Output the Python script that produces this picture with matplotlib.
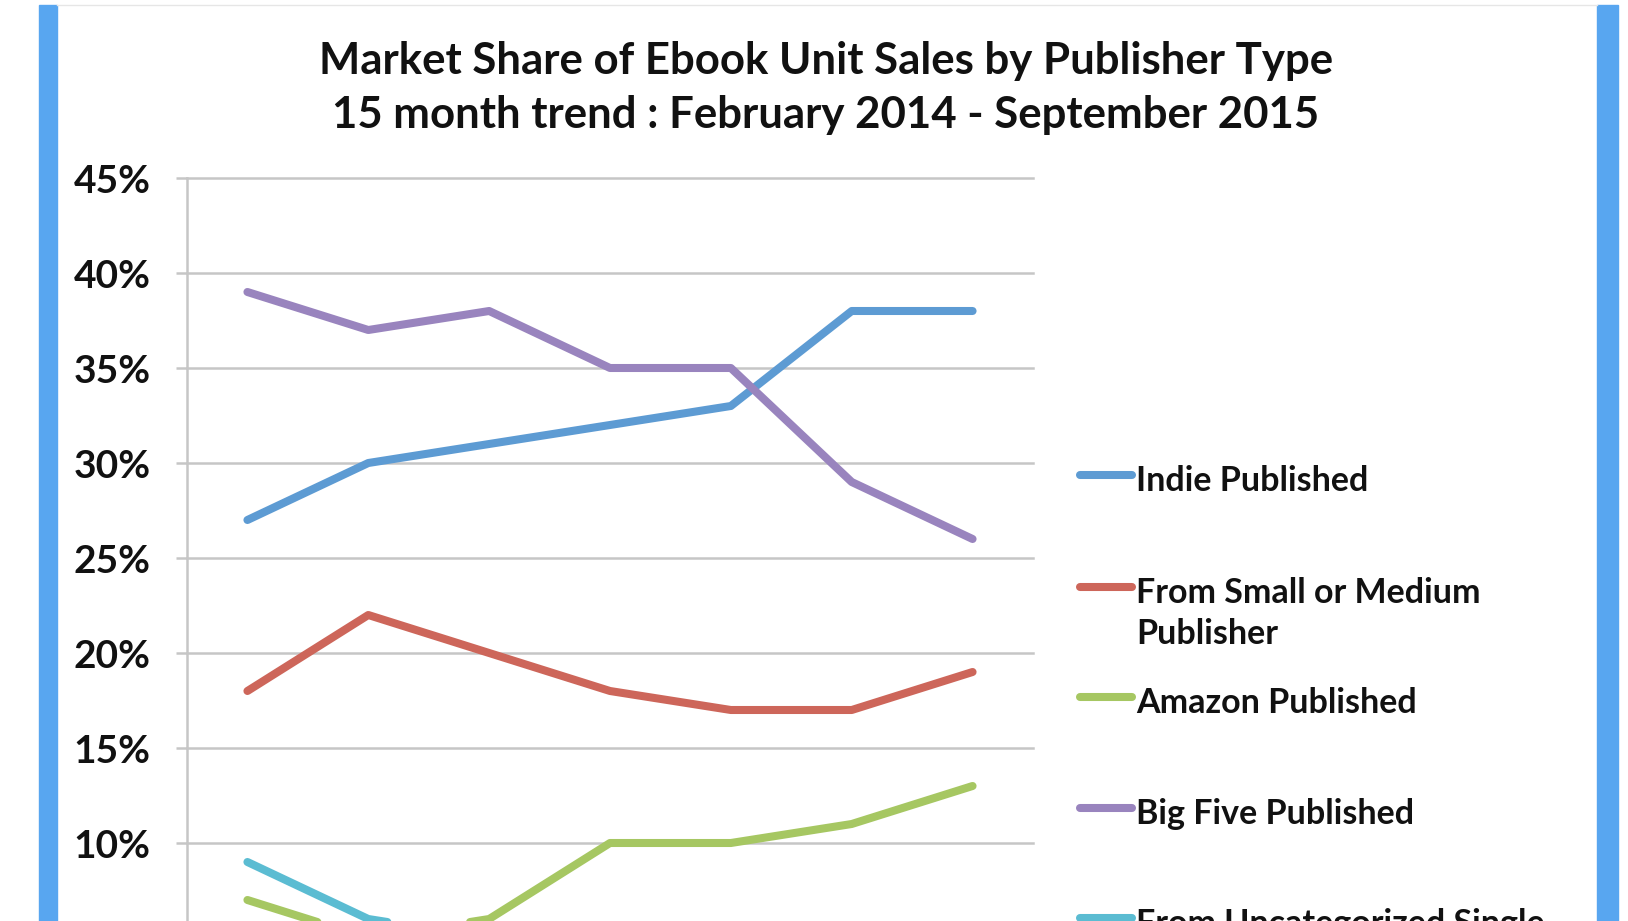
import matplotlib.pyplot as plt
from matplotlib.lines import Line2D
from matplotlib.patches import Rectangle
from matplotlib.ticker import FuncFormatter

plt.rcParams['font.family'] = ['Lato', 'DejaVu Sans']

# Data (market share %)
months = ['Feb 2014', 'May 2014', 'Jul 2014', 'Oct 2014', 'Jan 2015', 'May 2015', 'Sep 2015']
indie = [27, 30, 31, 32, 33, 38, 38]
small_medium = [18, 22, 20, 18, 17, 17, 19]
amazon = [7, 5, 6, 10, 10, 11, 13]
big_five = [39, 37, 38, 35, 35, 29, 26]
uncategorized = [9, 6, 5, 4, 4, 4, 4]

series_names = ['Indie Published', 'From Small or Medium\nPublisher', 'Amazon Published',
                'Big Five Published', 'From Uncategorized Single\nAuthor Publisher']
series_values = [indie, small_medium, amazon, big_five, uncategorized]
series_colors = ['#5D9BD3', '#CD665A', '#A6C762', '#9984BE', '#5BBCD2']

# only the ticks that are inside the cropped screenshot
y_ticks = [10, 15, 20, 25, 30, 35, 40, 45]

title_lines = ['Market Share of Ebook Unit Sales by Publisher Type',
               '15 month trend : February 2014 - September 2015']

W, H = 1628, 921
fig = plt.figure(figsize=(W / 100, H / 100), dpi=100)

# plot area runs below the bottom of the (cropped) picture
ax = fig.add_axes([187 / W, 1 - 1033 / H, (1033 - 187) / W, (1033 - 178) / H])
x = list(range(len(months)))
for vals, color in zip(series_values, series_colors):
    ax.plot(x, vals, color=color, lw=5.8, solid_capstyle='round', solid_joinstyle='round', zorder=3)

grid_c = '#C6C6C6'
ax.set_xlim(-0.5, len(months) - 0.5)
ax.set_ylim(0, 45)
ax.set_xticks(x)
ax.set_xticklabels(months)
ax.set_yticks(y_ticks)
ax.yaxis.set_major_formatter(FuncFormatter(lambda v, p: f'{v:.0f}%'))
ax.grid(axis='y', color=grid_c, lw=1.8)
for gl in ax.get_ygridlines():
    gl.set_clip_on(False)
ax.set_axisbelow(True)
for s in ['top', 'right', 'bottom']:
    ax.spines[s].set_visible(False)
ax.spines['left'].set_color(grid_c)
ax.spines['left'].set_linewidth(1.8)
ax.tick_params(axis='y', length=8, width=1.8, color=grid_c, pad=18, labelsize=28)
# month labels sit below the cropped edge of the screenshot
ax.tick_params(axis='x', length=0, labelbottom=False)
for lab in ax.get_yticklabels():
    lab.set_fontweight('bold')
    lab.set_color('#111111')

# title
for text, base in zip(title_lines, [74, 128]):
    fig.text(826 / W, 1 - base / H, text, ha='center', va='baseline',
             fontsize=31.5, fontweight='bold', color='#111111')

# legend drawn by hand, Excel style (key aligned to the first text line)
baselines = [491, 603, 713, 824, 934]
for name, color, base in zip(series_names, series_colors, baselines):
    ky = 1 - (base - 16) / H
    fig.add_artist(Line2D([1080 / W, 1132 / W], [ky, ky], color=color, lw=5.8,
                          solid_capstyle='round'))
    for j, line in enumerate(name.split('\n')):
        fig.text(1136 / W, 1 - (base + 41 * j) / H, line, ha='left', va='baseline',
                 fontsize=24.5, fontweight='bold', color='#111111')

# blue window borders of the screenshot
bar_c = '#58A6F0'
fig.add_artist(Rectangle((39 / W, 0), 18 / W, 1 - 5 / H, color=bar_c, transform=fig.transFigure))
fig.add_artist(Rectangle((1597 / W, 0), 21 / W, 1 - 5 / H, color=bar_c, transform=fig.transFigure))
fig.add_artist(Line2D([57 / W, 1597 / W], [1 - 5 / H, 1 - 5 / H], color='#E6E6E6', lw=1))

fig.savefig('out.png', dpi=100)
